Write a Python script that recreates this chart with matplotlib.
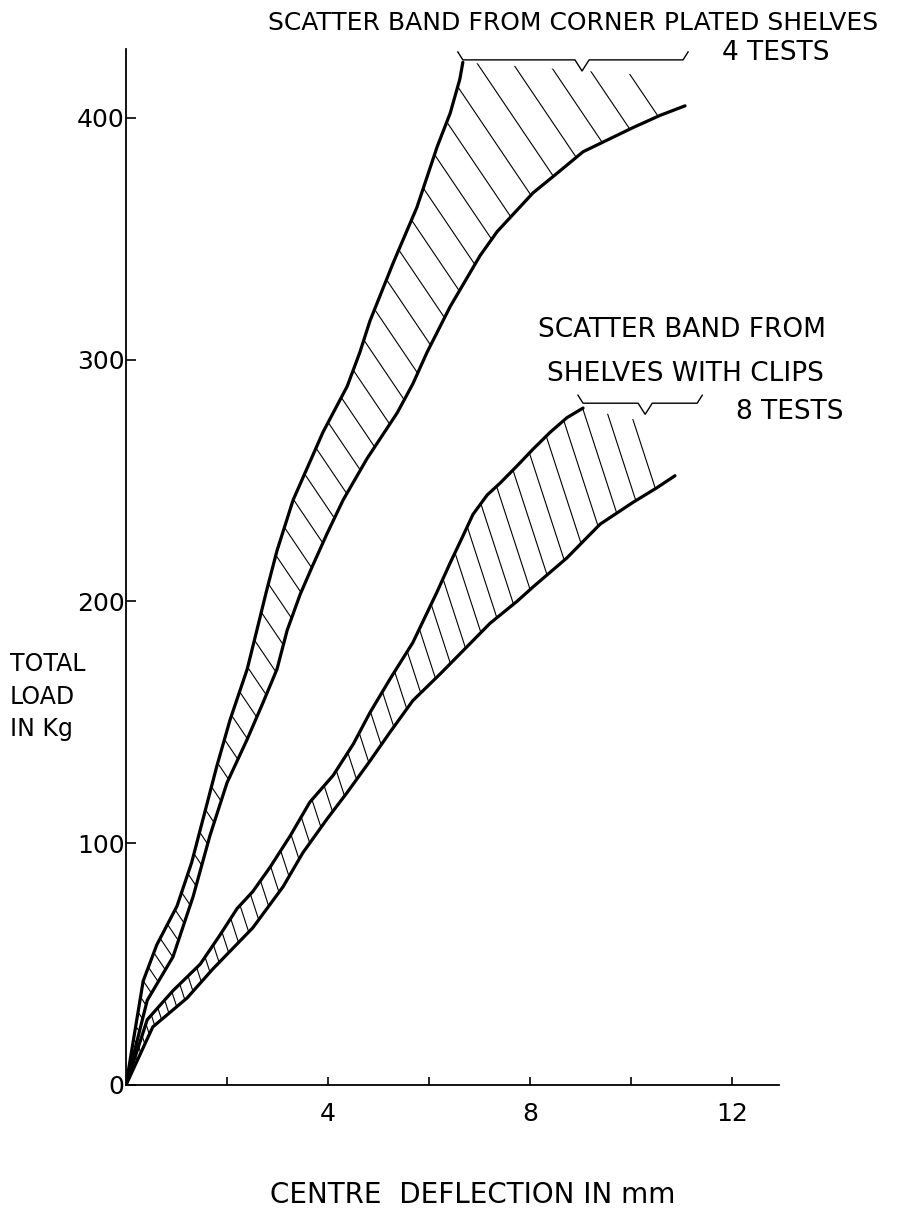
import numpy as np
import matplotlib
matplotlib.use('Agg')
import matplotlib.pyplot as plt
from matplotlib.collections import LineCollection
from matplotlib.patches import Polygon

# Data #
# corner plated shelves, 4 tests : the two edges of the scatter band
cp_left_x = [0, 0.34, 0.61, 1.01, 1.30, 1.55, 1.80, 2.06, 2.40, 2.59, 2.79, 2.99, 3.31,
             3.90, 4.38, 4.63, 4.83, 5.29, 5.76, 6.16, 6.42, 6.61, 6.67]
cp_left_y = [0, 43, 58, 74, 92, 112, 132, 151, 172, 188, 205, 221, 242,
             270, 289, 303, 316, 340, 363, 388, 402, 416, 423]
cp_right_x = [0, 0.42, 0.93, 1.33, 1.66, 2.00, 2.40, 2.71, 2.99, 3.19, 3.45, 3.70, 3.98,
              4.30, 4.77, 5.37, 5.68, 5.96, 6.42, 7.01, 7.35, 8.06, 8.53, 9.05, 10.04, 10.57, 11.07]
cp_right_y = [0, 35, 53, 78, 103, 125, 143, 158, 172, 188, 203, 215, 228,
              242, 259, 278, 290, 303, 322, 343, 353, 369, 377, 386, 396, 401, 405]
# open top of the hatched area
cp_top_x = [6.67, 10.75, 11.07]
cp_top_y = [423, 417, 405]

# shelves with clips, 8 tests
cl_left_x = [0, 0.42, 0.93, 1.47, 1.86, 2.20, 2.51, 2.85, 3.25, 3.64, 4.10, 4.50, 4.83,
             5.23, 5.68, 6.16, 6.42, 6.67, 6.87, 7.15, 7.41, 7.74, 8.06, 8.40, 8.73, 9.05]
cl_left_y = [0, 27, 39, 50, 62, 73, 80, 90, 103, 117, 128, 141, 154,
             168, 183, 204, 216, 227, 236, 244, 249, 256, 263, 270, 276, 280]
cl_right_x = [0, 0.53, 1.21, 1.72, 2.51, 3.11, 3.50, 3.98, 4.38, 4.83, 5.23, 5.68, 6.22,
              6.55, 7.21, 7.74, 8.06, 8.73, 9.39, 10.04, 10.51, 10.87]
cl_right_y = [0, 24, 36, 48, 65, 82, 96, 110, 121, 134, 146, 159, 170,
              177, 191, 200, 206, 218, 232, 241, 247, 252]
cl_top_x = [9.05, 9.45, 9.92, 10.51, 10.87]
cl_top_y = [280, 278, 276, 273, 252]

x_ticks = [2, 4, 6, 8, 10, 12]
x_tick_labels = ['', '4', '', '8', '', '12']
y_ticks = [0, 100, 200, 300, 400]
y_tick_labels = ['0', '100', '200', '300', '400']

# braces above the bands: (start, end, tip, level)
brace_cp = (6.57, 11.13, 9.03, 424)
brace_cl = (8.95, 11.41, 10.28, 282)

W, H = 907, 1208


def fx(px):
    return px / W


def fy(py):
    return 1 - py / H


# Figure #
plt.close()
fig = plt.figure(figsize=(W / 100, H / 100), dpi=100)
ax = fig.add_axes([fx(126), fy(1085), fx(779) - fx(126), fy(49) - fy(1085)])
ax.set_xlim(0, 12.93)
ax.set_ylim(0, 428.5)

for s in ['top', 'right']:
    ax.spines[s].set_visible(False)
for s in ['left', 'bottom']:
    ax.spines[s].set_linewidth(1.3)

ax.set_xticks(x_ticks)
ax.set_xticklabels(x_tick_labels, fontsize=18)
ax.set_yticks(y_ticks)
ax.set_yticklabels(y_tick_labels, fontsize=18)
ax.tick_params(axis='x', direction='in', length=6, width=1.2, pad=12)
ax.tick_params(axis='y', direction='in', length=7, width=1.2, pad=1)

# pixels per data unit, used to lay out the hatch lines
pos = ax.get_position()
sx = pos.width * W / 12.93
sy = pos.height * H / 428.5


def hatch_band(xa, ya, xt, yt, xb, yb, angle, n, p):
    px = np.concatenate([xa, xt, xb[::-1]])
    py = np.concatenate([ya, yt, yb[::-1]])
    poly = Polygon(np.column_stack([px, py]), closed=True, fill=False,
                   edgecolor='none', transform=ax.transData)
    ax.add_patch(poly)
    th = np.radians(angle)
    nu, nv = np.sin(th), np.cos(th)
    du, dv = np.cos(th), -np.sin(th)
    cmax = (px * sx * nu + py * sy * nv).max()
    segs = []
    for c in cmax * (np.arange(1, n) / n) ** p:
        u0, v0 = c * nu, c * nv
        t = 1500
        segs.append([((u0 - t * du) / sx, (v0 - t * dv) / sy),
                     ((u0 + t * du) / sx, (v0 + t * dv) / sy)])
    lc = LineCollection(segs, colors='black', linewidths=0.8)
    ax.add_collection(lc, autolim=False)
    lc.set_clip_path(poly)


def brace(x0, x1, xm, y):
    h, d, e = 3.3, 4.6, 0.14
    bx = [x0, x0 + 0.1, xm - e, xm, xm + e, x1 - 0.1, x1]
    by = [y + h, y, y, y - d, y, y, y + h]
    ax.plot(bx, by, color='black', lw=1.0, clip_on=False)


hatch_band(np.array(cp_left_x), np.array(cp_left_y), np.array(cp_top_x), np.array(cp_top_y),
           np.array(cp_right_x), np.array(cp_right_y), 56, 52, 1.6)
hatch_band(np.array(cl_left_x), np.array(cl_left_y), np.array(cl_top_x), np.array(cl_top_y),
           np.array(cl_right_x), np.array(cl_right_y), 72, 50, 1.6)

for bx, by in [(cp_left_x, cp_left_y), (cp_right_x, cp_right_y),
               (cl_left_x, cl_left_y), (cl_right_x, cl_right_y)]:
    ax.plot(bx, by, color='black', lw=2.3, solid_capstyle='round', solid_joinstyle='round')

brace(*brace_cp)
brace(*brace_cl)

# Texts #
fig.text(fx(268), fy(23), 'SCATTER BAND FROM CORNER PLATED SHELVES', fontsize=18, va='center')
fig.text(fx(776), fy(53), '4 TESTS', fontsize=19, va='center', ha='center')
fig.text(fx(682), fy(330), 'SCATTER BAND FROM', fontsize=19, va='center', ha='center')
fig.text(fx(685), fy(374), 'SHELVES WITH CLIPS', fontsize=19, va='center', ha='center')
fig.text(fx(790), fy(412), '8 TESTS', fontsize=19, va='center', ha='center')

fig.text(fx(10), fy(664), 'TOTAL', fontsize=17, va='center')
fig.text(fx(10), fy(697), 'LOAD', fontsize=17, va='center')
fig.text(fx(10), fy(729), 'IN Kg', fontsize=17, va='center')

fig.text(fx(473), fy(1195), 'CENTRE  DEFLECTION IN mm', fontsize=20, va='center', ha='center')

fig.savefig('out.png', dpi=100)
